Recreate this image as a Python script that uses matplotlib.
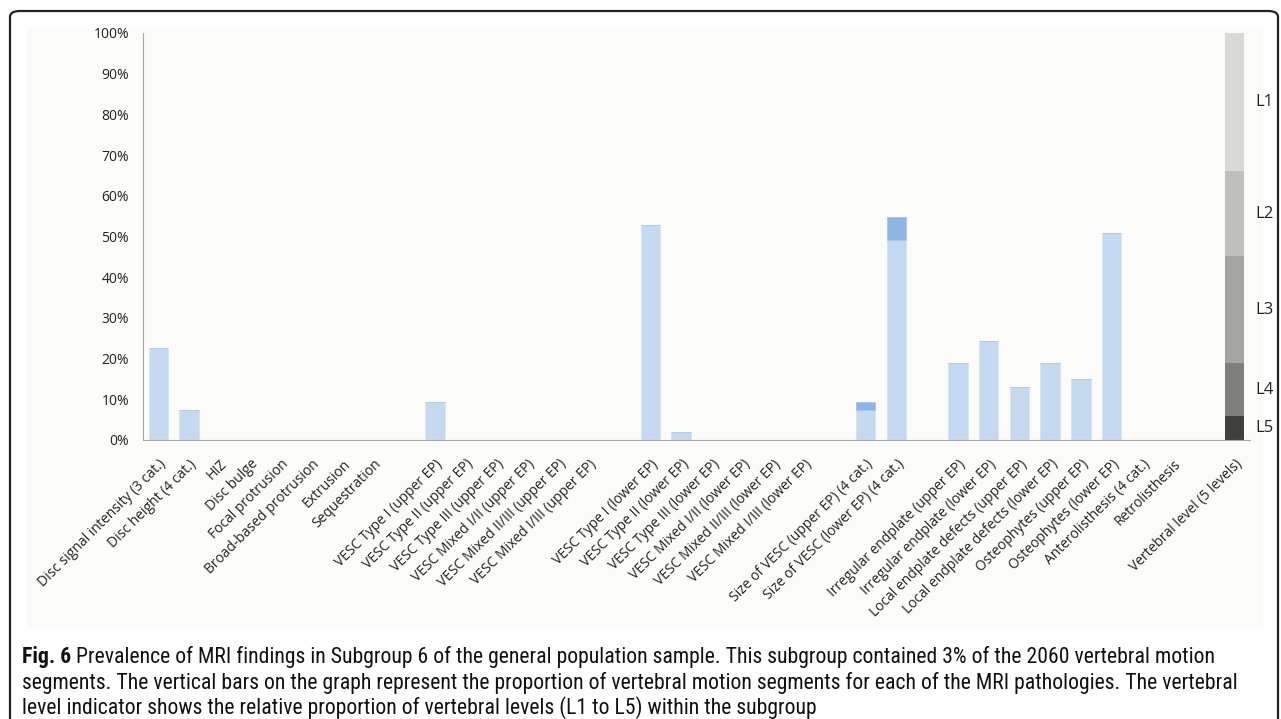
import matplotlib
matplotlib.use("Agg")
import matplotlib.pyplot as plt
from matplotlib import font_manager
from matplotlib.patches import FancyBboxPatch, Rectangle

plt.rcParams['font.family'] = ['Open Sans', 'DejaVu Sans']

# MRI findings (36 slots, empty strings are spacer slots)
categories = [
    'Disc signal intensity (3 cat.)', 'Disc height (4 cat.)', 'HIZ', 'Disc bulge',
    'Focal protrusion', 'Broad-based protrusion', 'Extrusion', 'Sequestration', '',
    'VESC Type I (upper EP)', 'VESC Type II (upper EP)', 'VESC Type III (upper EP)',
    'VESC Mixed I/II (upper EP)', 'VESC Mixed II/III (upper EP)', 'VESC Mixed I/III (upper EP)', '',
    'VESC Type I (lower EP)', 'VESC Type II (lower EP)', 'VESC Type III (lower EP)',
    'VESC Mixed I/II (lower EP)', 'VESC Mixed II/III (lower EP)', 'VESC Mixed I/III (lower EP)', '',
    'Size of VESC (upper EP) (4 cat.)', 'Size of VESC (lower EP) (4 cat.)', '',
    'Irregular endplate (upper EP)', 'Irregular endplate (lower EP)',
    'Local endplate defects (upper EP)', 'Local endplate defects (lower EP)',
    'Osteophytes (upper EP)', 'Osteophytes (lower EP)', 'Anterolisthesis (4 cat.)',
    'Retrolisthesis', '', 'Vertebral level (5 levels)',
]
# main (light blue) part of each bar, %
values = [22.5, 7.4, 0, 0, 0, 0, 0, 0, 0,
          9.3, 0, 0, 0, 0, 0, 0,
          52.9, 1.9, 0, 0, 0, 0, 0,
          7.4, 49.1, 0,
          18.8, 24.4, 13.1, 18.8, 15.1, 50.9, 0, 0, 0, 0]
# higher category part (darker blue), %
values_high = [0] * 23 + [2.0, 5.6] + [0] * 11

# vertebral level indicator
levels = ['L5', 'L4', 'L3', 'L2', 'L1']
level_share = [5.8, 13.1, 26.3, 20.8, 34.0]
level_colors = ['#3f403e', '#7e807d', '#a5a6a4', '#bfc0be', '#d9dad8']

caption_bold = 'Fig. 6'
caption_lines = [
    ' Prevalence of MRI findings in Subgroup 6 of the general population sample. This subgroup contained 3% of the 2060 vertebral motion',
    'segments. The vertical bars on the graph represent the proportion of vertebral motion segments for each of the MRI pathologies. The vertebral',
    'level indicator shows the relative proportion of vertebral levels (L1 to L5) within the subgroup',
]

fig = plt.figure(figsize=(12.81, 7.19), dpi=100)
W, H = 1281, 719

# outer frame + chart background
fig.patches.append(FancyBboxPatch((10 / W, -20 / H), 1268 / W, (719 - 11 + 20) / H,
                                  boxstyle='round,pad=0,rounding_size=0.008',
                                  transform=fig.transFigure, fill=False,
                                  edgecolor='#222222', linewidth=1.6))
fig.patches.append(Rectangle((27 / W, 1 - 628 / H), 1236 / W, 600 / H,
                             transform=fig.transFigure, facecolor='#fbfbf9',
                             edgecolor='none', zorder=-1))

ax = fig.add_axes([143 / W, 1 - 440 / H, 1107 / W, 407 / H])
ax.set_facecolor('none')
x = list(range(len(categories)))
bw = 0.64
ax.bar(x, values, width=bw, color='#c5d9f1', edgecolor='#d6e4f5', linewidth=0.6)
ax.bar(x, values_high, width=bw, bottom=values, color='#8db4e2', edgecolor='#a8c6ea', linewidth=0.6)

# stacked level indicator in the last slot
bottom = 0
for lab, share, col in zip(levels, level_share, level_colors):
    ax.bar(x[-1], share, width=bw, bottom=bottom, color=col, edgecolor='none')
    ax.text(x[-1] + 0.68, bottom + share / 2, lab, va='center', ha='left',
            fontsize=12, color='#222222')
    bottom += share

ax.set_xlim(-0.5, len(categories) - 0.5)
ax.set_ylim(0, 100)
ax.set_yticks(range(0, 101, 10))
ax.set_yticklabels([f'{v}%' for v in range(0, 101, 10)], fontsize=10, color='#222222')
ax.set_xticks(x)
ax.set_xticklabels(categories, rotation=45, ha='right', va='top',
                   rotation_mode='anchor', fontsize=10, color='#222222')
ax.tick_params(axis='both', length=0)
ax.tick_params(axis='y', pad=10)
ax.tick_params(axis='x', pad=12)
for s in ['top', 'right']:
    ax.spines[s].set_visible(False)
ax.spines['left'].set_color('#a6a6a6')
ax.spines['bottom'].set_color('#a6a6a6')

# caption, narrow font if one is installed
installed = {f.name for f in font_manager.fontManager.ttflist}
cap_font = 'Lato'
for name in ['Roboto Condensed', 'Open Sans Condensed', 'Liberation Sans Narrow',
             'Noto Sans Condensed', 'Lato']:
    if name in installed:
        cap_font = name
        break

fig.canvas.draw()
r = fig.canvas.get_renderer()
size = 17.0
while size > 8:
    probe = fig.text(0, 0, caption_lines[1], fontsize=size, family=cap_font)
    w = probe.get_window_extent(r).width
    probe.remove()
    if w <= 1222:
        break
    size -= 0.1

t0 = fig.text(22 / W, 1 - 657 / H, caption_bold, fontsize=size, fontweight='bold',
              family=cap_font, va='center', ha='left', color='#111111')
bb = t0.get_window_extent(r)
fig.text(bb.x1 / W, 1 - 657 / H, caption_lines[0], fontsize=size, family=cap_font,
         va='center', ha='left', color='#111111')
fig.text(22 / W, 1 - 683 / H, caption_lines[1], fontsize=size, family=cap_font,
         va='center', ha='left', color='#111111')
fig.text(22 / W, 1 - 708 / H, caption_lines[2], fontsize=size, family=cap_font,
         va='center', ha='left', color='#111111')

fig.savefig('out.png', dpi=100)
